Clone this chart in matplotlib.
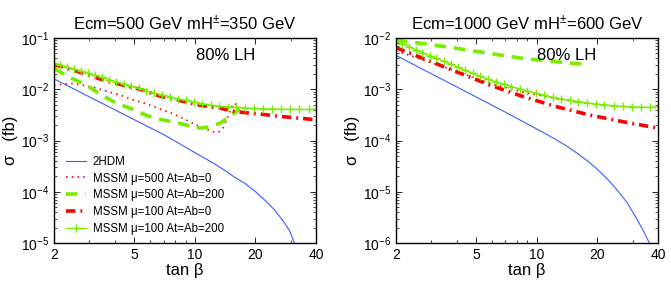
import numpy as np
import matplotlib
matplotlib.use('Agg')
import matplotlib.pyplot as plt
from matplotlib.ticker import FixedLocator, NullFormatter, LogLocator, LogFormatterSciNotation

plt.rcParams['font.family'] = ['Liberation Sans', 'DejaVu Sans']
plt.rcParams['mathtext.fontset'] = 'custom'
plt.rcParams['mathtext.rm'] = 'Liberation Sans'
plt.rcParams['mathtext.default'] = 'regular'

# tan(beta) values where the + markers sit (green solid curves)
tb_plus = [2.0, 2.15, 2.33, 2.51, 2.71, 2.94, 3.18, 3.45, 3.75, 4.07, 4.43, 4.82,
           5.26, 5.74, 6.27, 6.85, 7.5, 8.22, 9.0, 9.9, 10.9, 12.0, 13.2, 14.6,
           16.1, 17.8, 19.6, 21.7, 24.1, 26.7, 29.7, 33.0, 36.7, 40.0]

# ---- left panel: Ecm=500, mH=350 ----
l_2hdm_tb = [2, 3, 4, 5, 6, 7, 7.94, 10, 11.22, 12.59, 14.13, 15.85, 17.78,
             19.95, 22.39, 25.12, 27.54, 29.5, 31.26]
l_2hdm = [1.6e-2, 7.1e-3, 4.0e-3, 2.56e-3, 1.78e-3, 1.31e-3, 9.9e-4, 5.83e-4,
          4.52e-4, 3.47e-4, 2.6e-4, 1.9e-4, 1.45e-4, 1.02e-4, 6.76e-5, 4.27e-5,
          2.66e-5, 1.78e-5, 1.0e-5]

l_m500a0_tb = [2, 2.45, 2.8, 3.26, 3.7, 4.25, 4.76, 5.35, 6.0, 6.85, 7.7, 8.6,
               9.5, 10.6, 12.3, 13.1, 13.8, 14.5, 15.6, 16.8]
l_m500a0 = [1.2e-2, 1.3e-2, 1.2e-2, 1.05e-2, 9.0e-3, 7.8e-3, 6.5e-3, 5.7e-3,
            4.9e-3, 4.0e-3, 3.4e-3, 2.8e-3, 2.3e-3, 1.85e-3, 1.48e-3, 1.45e-3,
            1.75e-3, 2.75e-3, 5.4e-3, 4.6e-3]

l_m500a200_tb = [2, 2.4, 2.9, 3.45, 4.1, 4.9, 5.75, 6.7, 8.3, 9.1, 10.6, 12.0,
                 13.4, 14.6, 16.1, 16.6]
l_m500a200 = [2.55e-2, 1.7e-2, 1.2e-2, 7.7e-3, 5.3e-3, 4.1e-3, 3.1e-3, 2.6e-3,
              2.2e-3, 2.0e-3, 1.75e-3, 1.86e-3, 2.2e-3, 2.8e-3, 3.65e-3, 4.2e-3]

l_m100a0_tb = [2, 2.22, 2.8, 3.5, 4.5, 5.35, 6.7, 8.5, 10.6, 13.3, 16.1, 21,
               25.6, 32.6, 40]
l_m100a0 = [3.0e-2, 2.75e-2, 2.04e-2, 1.52e-2, 1.18e-2, 1.0e-2, 7.4e-3, 6.0e-3,
            4.9e-3, 4.3e-3, 3.64e-3, 3.3e-3, 3.0e-3, 2.75e-3, 2.55e-3]

l_m100a200 = [3.2e-2, 2.95e-2, 2.7e-2, 2.49e-2, 2.28e-2, 2.08e-2, 1.89e-2,
              1.72e-2, 1.55e-2, 1.4e-2, 1.27e-2, 1.15e-2, 1.04e-2, 9.35e-3,
              8.5e-3, 7.8e-3, 7.2e-3, 6.55e-3, 6.05e-3, 5.65e-3, 5.27e-3,
              4.92e-3, 4.66e-3, 4.54e-3, 4.43e-3, 4.31e-3, 4.23e-3, 4.17e-3,
              4.12e-3, 4.07e-3, 4.05e-3, 4.05e-3, 4.05e-3, 4.05e-3]

# ---- right panel: Ecm=1000, mH=600 ----
r_2hdm_tb = [2, 3, 4, 5, 6, 7.08, 8.91, 10, 11.22, 12.59, 14.13, 15.85, 17.78,
             19.95, 22.39, 25.12, 28.18, 31.62, 33.5, 36.3]
r_2hdm = [4.6e-3, 2.01e-3, 1.12e-3, 7.1e-4, 4.9e-4, 3.49e-4, 2.15e-4, 1.68e-4,
          1.32e-4, 1.02e-4, 7.76e-5, 5.69e-5, 4.07e-5, 2.79e-5, 1.8e-5,
          1.08e-5, 6.1e-6, 2.82e-6, 1.88e-6, 1.0e-6]

r_m500a0_tb = [2, 2.5, 3, 4, 5.86, 8.57, 12.5, 17]
r_m500a0 = [5.6e-3, 4.2e-3, 3.3e-3, 2.25e-3, 1.3e-3, 8.8e-4, 6.6e-4, 5.5e-4]

r_m500a200_tb = [2, 2.58, 3.18, 4.0, 5.86, 8.57, 15.2, 17.3]
r_m500a200 = [9.1e-3, 8.0e-3, 7.2e-3, 6.3e-3, 5.0e-3, 4.0e-3, 3.2e-3, 3.1e-3]

r_m100a0_tb = [2, 2.73, 4.0, 5.86, 8.57, 12.5, 18.3, 26.9, 40]
r_m100a0 = [6.5e-3, 4.0e-3, 2.2e-3, 1.21e-3, 7.2e-4, 4.6e-4, 3.15e-4, 2.33e-4,
            1.75e-4]

r_m100a200 = [8.9e-3, 7.8e-3, 6.8e-3, 5.9e-3, 5.15e-3, 4.55e-3, 4.0e-3, 3.53e-3,
              3.1e-3, 2.68e-3, 2.34e-3, 2.05e-3, 1.79e-3, 1.56e-3, 1.4e-3,
              1.26e-3, 1.13e-3, 1.02e-3, 9.25e-4, 8.4e-4, 7.65e-4, 6.95e-4,
              6.5e-4, 6.1e-4, 5.75e-4, 5.4e-4, 5.17e-4, 4.98e-4, 4.8e-4,
              4.62e-4, 4.55e-4, 4.47e-4, 4.45e-4, 4.5e-4]

labels = ['2HDM', 'MSSM μ=500 At=Ab=0', 'MSSM μ=500 At=Ab=200',
          'MSSM μ=100 At=Ab=0', 'MSSM μ=100 At=Ab=200']
titles = ['Ecm=500 GeV mH$^{\\pm}$=350 GeV', 'Ecm=1000 GeV mH$^{\\pm}$=600 GeV']

blue = '#3a5cff'
red = '#ff0000'
green = '#77ee00'

fig = plt.figure(figsize=(6.71, 2.86), dpi=100)
ax1 = fig.add_axes([0.0805, 0.150, 0.3905, 0.717])
ax2 = fig.add_axes([0.590, 0.150, 0.3905, 0.717])


def draw(ax, d2hdm, dm500a0, dm500a200, dm100a0, dm100a200):
    ax.plot(*d2hdm, color=blue, lw=0.8, label=labels[0])
    ax.plot(*dm500a0, color=red, lw=1.3, dashes=(0.8, 2.4), label=labels[1])
    ax.plot(*dm500a200, color=green, lw=2.6, dashes=(3.2, 2.2), label=labels[2])
    ax.plot(*dm100a0, color=red, lw=2.6, dashes=(2.6, 1.4, 0.5, 1.4), label=labels[3])
    ax.plot(tb_plus, dm100a200, color=green, lw=1.0, marker='+', ms=6, mew=1.0,
            label=labels[4])


draw(ax1, (l_2hdm_tb, l_2hdm), (l_m500a0_tb, l_m500a0),
     (l_m500a200_tb, l_m500a200), (l_m100a0_tb, l_m100a0), l_m100a200)
draw(ax2, (r_2hdm_tb, r_2hdm), (r_m500a0_tb, r_m500a0),
     (r_m500a200_tb, r_m500a200), (r_m100a0_tb, r_m100a0), r_m100a200)

for ax, ylim, title in [(ax1, (1e-5, 1e-1), titles[0]), (ax2, (1e-6, 1e-2), titles[1])]:
    ax.set_xscale('log')
    ax.set_yscale('log')
    ax.set_xlim(2, 40)
    ax.set_ylim(*ylim)
    ax.xaxis.set_major_locator(FixedLocator([2, 5, 10, 20, 40]))
    ax.xaxis.set_major_formatter(plt.FuncFormatter(lambda v, p: '%g' % v))
    ax.xaxis.set_minor_locator(FixedLocator([3, 4, 6, 7, 8, 9, 30]))
    ax.xaxis.set_minor_formatter(NullFormatter())
    ax.yaxis.set_major_locator(LogLocator(base=10, numticks=10))
    ax.yaxis.set_major_formatter(LogFormatterSciNotation())
    ax.yaxis.set_minor_locator(LogLocator(base=10, subs=np.arange(2, 10), numticks=20))
    ax.yaxis.set_minor_formatter(NullFormatter())
    ax.tick_params(which='both', direction='in', top=True, right=True,
                   labelsize=10, color='black')
    ax.tick_params(which='major', length=4, width=0.6)
    ax.tick_params(which='minor', length=2, width=0.5)
    for s in ax.spines.values():
        s.set_linewidth(1.0)
    ax.set_xlabel('tan β', fontsize=12, labelpad=1)
    ax.set_ylabel('σ   (fb)', fontsize=12, labelpad=2)
    ax.set_title(title, fontsize=12, pad=6)
    ax.text(0.54, 0.917, '80% LH', transform=ax.transAxes, fontsize=12,
            ha='left', va='center')

ax1.legend(loc='lower left', bbox_to_anchor=(0.015, 0.0), frameon=False,
           fontsize=8.3, handlelength=1.7, handletextpad=0.6,
           labelspacing=0.42, borderaxespad=0.3)

fig.savefig('out.png', dpi=100)
